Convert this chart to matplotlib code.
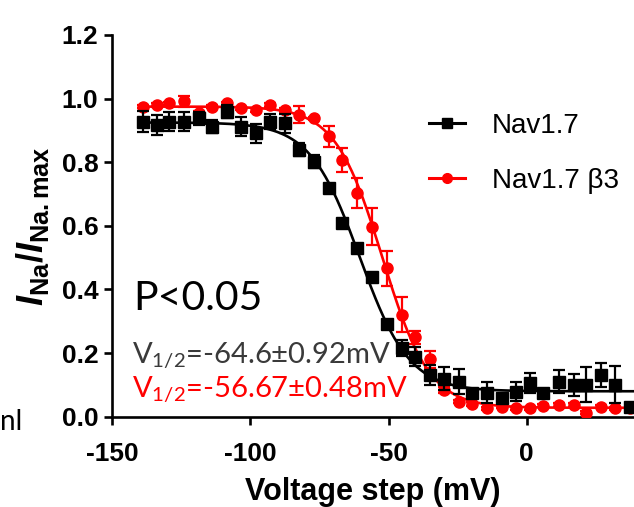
import numpy as np
import matplotlib
matplotlib.use("Agg")
import matplotlib.pyplot as plt
from matplotlib.lines import Line2D

plt.rcParams['mathtext.fontset'] = 'custom'
plt.rcParams['mathtext.rm'] = 'Lato'
plt.rcParams['mathtext.bf'] = 'Liberation Sans:bold'
plt.rcParams['mathtext.it'] = 'Liberation Sans:bold:italic'

# ---- data ----
volts = [-139, -134, -129.5, -124, -118.5, -114, -108.5, -103.5, -98, -93, -87.5,
         -82.5, -77, -71.5, -67, -61.5, -56, -50.5, -45, -40.5, -35, -30, -24.5,
         -20, -14.5, -9, -4, 1, 6, 11.5, 17, 21.5, 27, 32, 37.5]

nav17 = [0.928, 0.917, 0.928, 0.928, 0.938, 0.912, 0.959, 0.912, 0.891, 0.928, 0.922,
         0.840, 0.802, 0.718, 0.608, 0.530, 0.440, 0.290, 0.215, 0.189, 0.131, 0.120, 0.110,
         0.074, 0.076, 0.058, 0.079, 0.105, 0.074, 0.110, 0.100, 0.100, 0.131, 0.100, 0.031]
nav17_err = [0.034, 0.03, 0.03, 0.03, 0.02, 0.02, 0.02, 0.03, 0.03, 0.025, 0.03,
             0.02, 0.02, 0.01, 0.01, 0.01, 0.01, 0.01, 0.025, 0.03, 0.03, 0.037, 0.039,
             0.01, 0.034, 0.01, 0.031, 0.031, 0.01, 0.037, 0.034, 0.055, 0.037, 0.058, 0.01]

nav17b3 = [0.975, 0.980, 0.985, 0.991, 0.955, 0.975, 0.985, 0.970, 0.964, 0.980, 0.964,
           0.949, 0.938, 0.881, 0.807, 0.703, 0.597, 0.467, 0.320, 0.250, 0.180, 0.084, 0.047,
           0.040, 0.026, 0.031, 0.026, 0.026, 0.034, 0.037, 0.037, 0.013, 0.031, 0.026, 0.026]
nav17b3_err = [0.005, 0.005, 0.005, 0.018, 0.005, 0.005, 0.005, 0.005, 0.005, 0.005, 0.005,
               0.027, 0.005, 0.034, 0.037, 0.047, 0.058, 0.055, 0.055, 0.02, 0.026, 0.01, 0.005,
               0.005, 0.005, 0.005, 0.005, 0.005, 0.005, 0.005, 0.005, 0.005, 0.005, 0.005, 0.005]

# Boltzmann fit parameters (top, bottom, V50, slope) as seen on the picture
fit_nav17 = (0.925, 0.08, -60.5, 9.0)
fit_nav17b3 = (0.975, 0.028, -52.3, 8.5)

xticks = [-150, -100, -50, 0]
yticks = [0.0, 0.2, 0.4, 0.6, 0.8, 1.0, 1.2]


def boltz(v, p):
    top, bot, v50, k = p
    return bot + (top - bot) / (1 + np.exp((v - v50) / k))


fig = plt.figure(figsize=(6.34, 5.07), dpi=100)
ax = fig.add_axes([112.3 / 634, 90.3 / 507, 1 - 112.3 / 634, 381.7 / 507])

vv = np.linspace(-140, 40, 400)
ax.plot(vv, boltz(vv, fit_nav17b3), color='#ff0000', lw=1.9, zorder=2)
ax.errorbar(volts, nav17b3, yerr=nav17b3_err, fmt='o', color='#ff0000', ms=8,
            elinewidth=1.6, capsize=4, capthick=1.6, zorder=3)
ax.plot(vv, boltz(vv, fit_nav17), color='black', lw=1.9, zorder=4)
ax.errorbar(volts, nav17, yerr=nav17_err, fmt='s', color='black', ms=8.5,
            elinewidth=1.6, capsize=4, capthick=1.6, zorder=5)

ax.set_xlim(-150, 38.8)
ax.set_ylim(0, 1.2)
ax.set_xticks(xticks)
ax.set_yticks(yticks)
ax.set_xticklabels([str(t) for t in xticks])
ax.set_yticklabels([f"{t:.1f}" for t in yticks])
for lab in ax.get_xticklabels() + ax.get_yticklabels():
    lab.set_fontfamily('Liberation Sans')
    lab.set_fontweight('bold')
    lab.set_fontsize(19)
ax.tick_params(direction='out', length=6, width=1.9)
ax.tick_params(axis='x', pad=12)
ax.tick_params(axis='y', pad=4)
for s in ['top', 'right']:
    ax.spines[s].set_visible(False)
for s in ['left', 'bottom']:
    ax.spines[s].set_linewidth(1.9)

ax.set_xlabel('Voltage step (mV)', fontfamily='Liberation Sans', fontweight='bold',
              fontsize=22, labelpad=8)
ax.set_ylabel(r'$\mathit{I}_{\mathbf{Na}}\mathbf{/}\mathit{I}_{\mathbf{Na.max}}$',
              fontsize=26, labelpad=8)

handles = [Line2D([], [], color='black', marker='s', ms=7, lw=2.2),
           Line2D([], [], color='#ff0000', marker='o', ms=7, lw=2.2)]
leg = fig.legend(handles, ['Nav1.7', 'Nav1.7 β3'], loc='upper left',
                 bbox_to_anchor=(429 / 634, 1 - 113 / 507), frameon=False,
                 prop={'family': 'Liberation Sans', 'size': 20},
                 handlelength=1.3, handletextpad=0.95, labelspacing=1.05,
                 borderpad=0, borderaxespad=0)

fig.text(133 / 634, 1 - 310 / 507, 'P<0.05', fontfamily='Lato', fontsize=29.5,
         color='black', va='baseline', ha='left')
fig.text(132 / 634, 1 - 363 / 507, r'V$_{1/2}$=-64.6±0.92mV', fontfamily='Lato',
         fontsize=21, color='#3a3a3a', va='baseline', ha='left')
fig.text(132 / 634, 1 - 397 / 507, r'V$_{1/2}$=-56.67±0.48mV', fontfamily='Lato',
         fontsize=21, color='#ff0000', va='baseline', ha='left')
fig.text(0, 1 - 430 / 507, 'nl', fontfamily='Lato', fontsize=20,
         color='black', va='baseline', ha='left')

fig.savefig('out.png', dpi=100)
